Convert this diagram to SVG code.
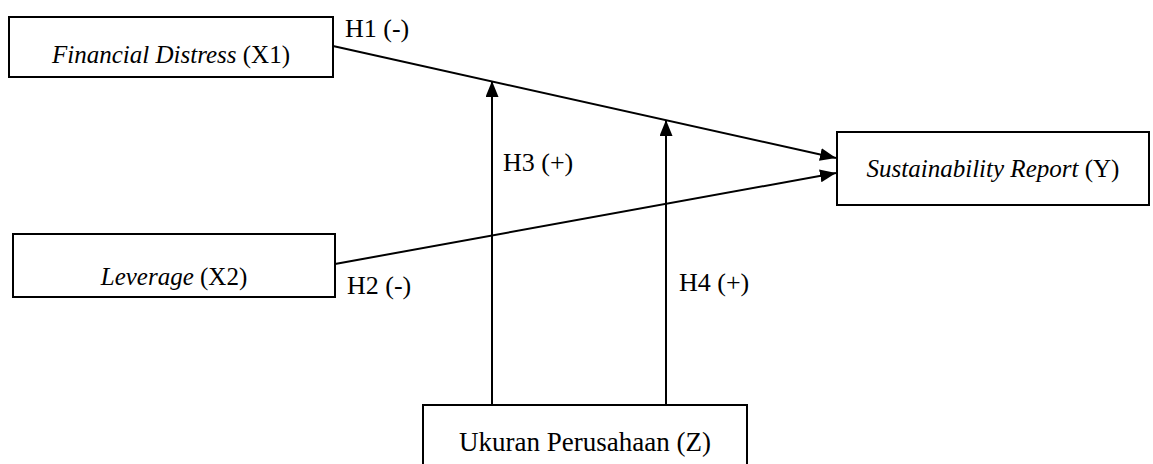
<svg xmlns="http://www.w3.org/2000/svg" width="1153" height="464" viewBox="0 0 1153 464">
<style>
.box{fill:#fff;stroke:#000;stroke-width:2}
.t{font-family:"Liberation Serif","DejaVu Serif",serif;font-size:25px;fill:#000}
.h{font-size:26px}
.u{font-size:27px}
.i{font-style:italic}
.c{stroke:#000;stroke-width:2;fill:none}
</style>
<defs>
<marker id="ah" viewBox="0 0 16 13" refX="16" refY="6.5" markerWidth="16" markerHeight="13" markerUnits="userSpaceOnUse" orient="auto">
<path d="M0,0 L16,6.5 L0,13 Z" fill="#000"/>
</marker>
</defs>
<g id="connectors">
<line class="c" x1="333" y1="46" x2="836" y2="158" marker-end="url(#ah)"/>
<line class="c" x1="335" y1="264" x2="836" y2="173" marker-end="url(#ah)"/>
<line class="c" x1="492" y1="405" x2="492" y2="81" marker-end="url(#ah)"/>
<line class="c" x1="666" y1="405" x2="666" y2="120" marker-end="url(#ah)"/>
<text class="t h" x="345" y="37">H1 (-)</text>
<text class="t h" x="347" y="294">H2 (-)</text>
<text class="t h" x="503" y="171">H3 (+)</text>
<text class="t h" x="679" y="291">H4 (+)</text>
</g>
<g id="x1">
<rect class="box" x="9" y="17" width="324" height="60"/>
<text class="t" x="171" y="63" text-anchor="middle"><tspan class="i">Financial Distress</tspan> (X1)</text>
</g>
<g id="x2">
<rect class="box" x="13" y="234" width="322" height="63"/>
<text class="t" x="174" y="285" text-anchor="middle"><tspan class="i">Leverage</tspan> (X2)</text>
</g>
<g id="y">
<rect class="box" x="837" y="132" width="312" height="73"/>
<text class="t" x="993" y="177" text-anchor="middle"><tspan class="i">Sustainability Report</tspan> (Y)</text>
</g>
<g id="z">
<rect class="box" x="423" y="405" width="324" height="70"/>
<text class="t u" x="585" y="451" text-anchor="middle">Ukuran Perusahaan (Z)</text>
</g>
</svg>
